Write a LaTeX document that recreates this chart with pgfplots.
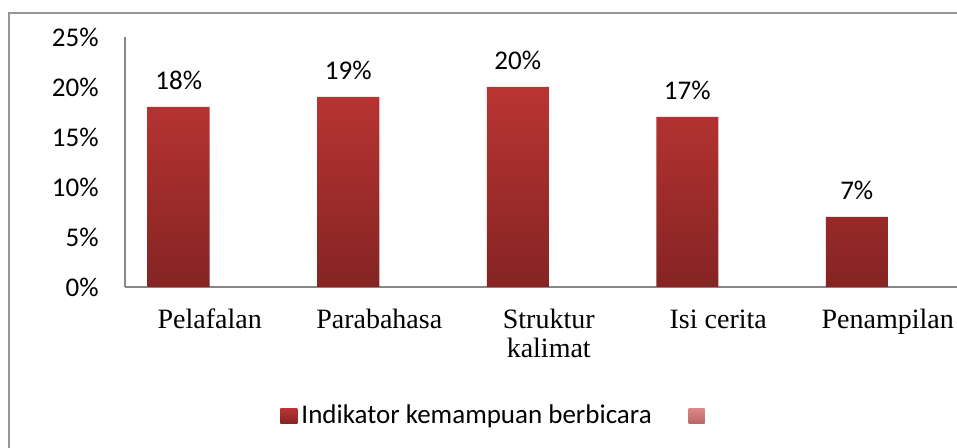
\documentclass[border=0pt]{standalone}
\usepackage{pgfplots}
\pgfplotsset{compat=1.18}
\usepackage{fontspec}
\setmainfont{Carlito}
\newfontfamily\serifx{Liberation Serif}
\definecolor{bartop}{RGB}{185,53,51}
\definecolor{barbot}{RGB}{133,36,35}
\definecolor{pinktop}{RGB}{222,134,134}
\definecolor{pinkbot}{RGB}{184,104,104}
\definecolor{axgray}{RGB}{134,134,134}
\definecolor{framegray}{RGB}{150,150,150}
\begin{document}
\begin{tikzpicture}
\draw[framegray, line width=1pt] (4.6pt,-50pt) -- (4.6pt,217.5pt) -- (550pt,217.5pt);
\begin{axis}[
  at={(62.5pt,80.5pt)}, anchor=south west,
  scale only axis, width=423.75pt, height=125pt,
  xmin=-0.5, xmax=4.5, ymin=0, ymax=25,
  axis x line=bottom, axis y line=left,
  axis line style={-, axgray, line width=1pt},
  major tick length=0pt,
  xtick={0,...,4},
  xticklabels={\strut Pelafalan, \strut Parabahasa, {\strut Struktur\\kalimat}, \strut Isi cerita, \strut Penampilan},
  xticklabel style={font=\serifx\fontsize{14}{14.5}\selectfont, align=center, anchor=north, inner sep=0pt, yshift=-10.6pt},
  ytick={0,5,10,15,20,25},
  yticklabels={0\%,5\%,10\%,15\%,20\%,25\%},
  yticklabel style={font=\fontsize{13.5}{15}\selectfont, anchor=east, inner sep=0pt, xshift=-13pt},
  /pgf/number format/assume math mode=true,
  legend columns=2,
  legend style={at={(0.183,-0.516)}, anchor=west, draw=none, fill=none, inner sep=0pt,
    font=\fontsize{13.5}{15}\selectfont,
    nodes={inner sep=1.5pt},
    /tikz/every odd column/.append style={column sep=0.5pt},
    /tikz/every even column/.append style={column sep=17pt}},
  legend cell align=left,
]
\addplot[ybar, bar width=31pt, bar shift=-15.5pt, draw=none, top color=bartop, bottom color=barbot,
  nodes near coords={\pgfmathprintnumber{\pgfplotspointmeta}\%},
  every node near coord/.append style={font=\fontsize{13.5}{15}\selectfont, anchor=base, inner sep=0pt, xshift=-15.5pt, yshift=8.5pt, text=black},
  legend image code/.code={\path[draw=none, top color=bartop, bottom color=barbot] (0pt,-3.75pt) rectangle (8.5pt,3.75pt);}]
  coordinates {(0,18) (1,19) (2,20) (3,17) (4,7)};
\addlegendentry{Indikator kemampuan berbicara}
\addlegendimage{draw=none, legend image code/.code={\path[draw=none, top color=pinktop, bottom color=pinkbot] (0pt,-3.75pt) rectangle (8pt,3.75pt);}}
\addlegendentry{}
\end{axis}
\pgfresetboundingbox
\useasboundingbox (0pt,0pt) rectangle (478.5pt,224pt);
\end{tikzpicture}
\end{document}
